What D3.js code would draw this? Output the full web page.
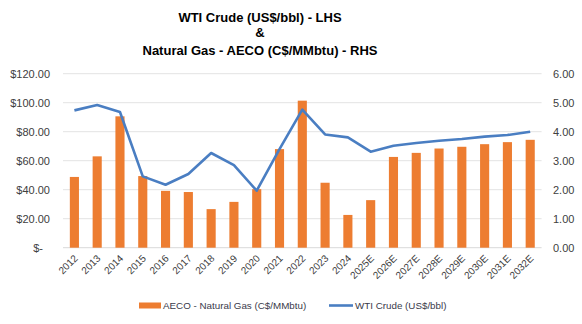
<!DOCTYPE html>
<html><head><meta charset="utf-8">
<script src="https://cdn.jsdelivr.net/npm/d3@7"></script>
<style>
body{margin:0;background:#fff;}
svg{display:block;font-family:"Liberation Sans",Arial,sans-serif;}
</style></head>
<body>
<svg id="c" width="582" height="324"></svg>
<script>
const years = ["2012","2013","2014","2015","2016","2017","2018","2019","2020","2021","2022","2023","2024","2025E","2026E","2027E","2028E","2029E","2030E","2031E","2032E"];
const aecoGas = [2.44,3.15,4.53,2.47,1.96,1.92,1.33,1.58,2.02,3.40,5.07,2.24,1.13,1.64,3.13,3.27,3.42,3.48,3.57,3.64,3.72];
const wtiCrude = [94.7,98.4,93.6,49.2,43.4,50.8,65.3,57.0,39.3,68.0,95.2,78.1,76.1,66.2,70.3,72.2,73.8,75.0,76.6,77.7,80.0];
const leftTicks = [0,20,40,60,80,100,120];
const rightTicks = [0,1,2,3,4,5,6];
const titleLines = ["WTI Crude (US$/bbl) - LHS","&","Natural Gas - AECO (C$/MMbtu) - RHS"];
const legendLabels = ["AECO - Natural Gas (C$/MMbtu)","WTI Crude (US$/bbl)"];

const svg = d3.select("#c");
const L = 63, R = 541.6, T = 73.7, B = 247.7;
const x = d3.scaleBand().domain(years).range([L,R]).paddingInner(0.6).paddingOuter(0.3);
const yL = d3.scaleLinear().domain([0,120]).range([B,T]);
const yR = d3.scaleLinear().domain([0,6]).range([B,T]);
const orange = "#ED7D31", blue = "#4A7EC2";

// title
const ty = [21.5,36.5,55];
svg.selectAll("text.title").data(titleLines).enter().append("text")
  .attr("x",260).attr("y",(d,i)=>ty[i]).attr("text-anchor","middle")
  .attr("font-weight","bold").attr("font-size","13px").attr("fill","#000").text(d=>d);

// grid
svg.append("g").selectAll("line").data(leftTicks).enter().append("line")
  .attr("x1",L).attr("x2",R).attr("y1",d=>yL(d)).attr("y2",d=>yL(d))
  .attr("stroke",d=>d===0?"#d9d9d9":"#e3e3e3").attr("stroke-width",1);

// left axis labels
const fmtL = d => d===0 ? "$-" : "$"+d.toFixed(2);
svg.append("g").selectAll("text").data(leftTicks).enter().append("text")
  .attr("x",d=>d===0?43:50).attr("y",d=>yL(d)+4).attr("text-anchor","end")
  .attr("font-size","11px").attr("fill","#404040").text(fmtL);

// right axis labels
svg.append("g").selectAll("text").data(rightTicks).enter().append("text")
  .attr("x",553).attr("y",d=>yR(d)+4).attr("text-anchor","start")
  .attr("font-size","11px").attr("fill","#404040").text(d=>d.toFixed(2));

// bars
svg.append("g").selectAll("rect").data(years).enter().append("rect")
  .attr("x",d=>x(d)).attr("width",x.bandwidth())
  .attr("y",(d,i)=>yR(aecoGas[i])).attr("height",(d,i)=>B-yR(aecoGas[i]))
  .attr("fill",orange);

// line
const line = d3.line().x((d,i)=>x(years[i])+x.bandwidth()/2).y(d=>yL(d));
svg.append("path").datum(wtiCrude).attr("d",line).attr("fill","none")
  .attr("stroke",blue).attr("stroke-width",2.6).attr("stroke-linejoin","round");

// x labels
svg.append("g").selectAll("text").data(years).enter().append("text")
  .attr("transform",d=>`translate(${x(d)+x.bandwidth()/2+4},${259}) rotate(-45)`)
  .attr("text-anchor","end").attr("font-size","10px").attr("fill","#404040").text(d=>d);

// legend
svg.append("rect").attr("x",139).attr("y",302.5).attr("width",22).attr("height",6).attr("fill",orange);
svg.append("text").attr("x",163).attr("y",309).attr("font-size","9.8px").attr("fill","#3a3a4a").text(legendLabels[0]);
svg.append("line").attr("x1",329).attr("x2",353).attr("y1",305.5).attr("y2",305.5).attr("stroke",blue).attr("stroke-width",2.6);
svg.append("text").attr("x",355).attr("y",309).attr("font-size","9.8px").attr("fill","#3a3a4a").text(legendLabels[1]);
</script>
</body></html>
